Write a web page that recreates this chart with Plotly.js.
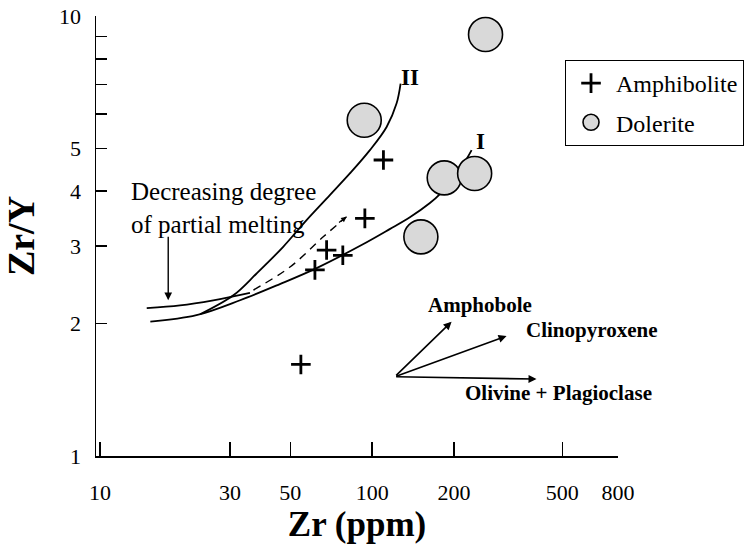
<!DOCTYPE html>
<html>
<head>
<meta charset="utf-8">
<script src="https://cdn.plot.ly/plotly-3.0.1.min.js"></script>
<style>html,body{margin:0;padding:0;background:#fff;}#chart{width:748px;height:552px;}</style>
</head>
<body>
<div id="chart"></div>
<script>
// ---- data ----
const amphZr    = [110, 94, 68, 78, 61.6, 54.7];
const amphRatio = [4.71, 3.47, 2.94, 2.86, 2.65, 1.615];

const dolZr     = [261, 93.5, 184, 238, 151];
const dolRatio  = [9.09, 5.80, 4.29, 4.39, 3.15];

const curveIZr    = [15.3, 22.6, 32.7, 45.8, 62.5, 92.5, 116, 137.6, 163, 177.4, 201, 222, 232];
const curveIRatio = [2.02, 2.09, 2.26, 2.46, 2.675, 3.03, 3.28, 3.49, 3.76, 3.94, 4.33, 4.73, 4.96];

const curveIIZr    = [23.3, 30.9, 37.6, 47.1, 57.4, 69.9, 82.8, 98.1, 113, 122.9, 127.2];
const curveIIRatio = [2.10, 2.32, 2.60, 2.99, 3.44, 3.92, 4.39, 4.96, 5.60, 6.33, 7.03];

const meltZr    = [14.84, 19.67, 26.06, 35.55];
const meltRatio = [2.17, 2.20, 2.26, 2.35];

const trendZr    = [36.6, 49.9, 66.1, 80.5];
const trendRatio = [2.384, 2.69, 3.15, 3.50];

const vectorOrigin   = [121, 1.514];
const mineralNames   = ['Amphobole', 'Clinopyroxene', 'Olivine + Plagioclase'];
const mineralTipZr   = [195.8, 311.8, 401.8];
const mineralTipRatio= [2.02, 1.874, 1.496];

const xTickVals = [10, 30, 50, 100, 200, 500, 800];
const xTickText = ['10', '30', '50', '100', '200', '500', '800'];
const yTickVals = [1, 2, 3, 4, 5, 6, 7, 8, 9, 10];
const yTickText = ['1', '2', '3', '4', '5', '', '', '', '', '10'];

// ---- chart ----
const FONT = 'Liberation Serif, Times New Roman, serif';
const L = Math.log10;
const lineStyle = {color: '#000', width: 1.8, shape: 'spline', smoothing: 1};

const traces = [
  {x: curveIZr, y: curveIRatio, mode: 'lines', line: lineStyle, showlegend: false, hoverinfo: 'skip', name: 'I'},
  {x: curveIIZr, y: curveIIRatio, mode: 'lines', line: lineStyle, showlegend: false, hoverinfo: 'skip', name: 'II'},
  {x: meltZr, y: meltRatio, mode: 'lines', line: lineStyle, showlegend: false, hoverinfo: 'skip'},
  {x: trendZr, y: trendRatio, mode: 'lines', line: {color: '#000', width: 1.4, dash: '8px,6px', shape: 'spline'}, showlegend: false, hoverinfo: 'skip'},
  {x: amphZr, y: amphRatio, mode: 'markers', name: 'Amphibolite', legendgroup: 'a',
   marker: {symbol: 'cross-thin-open', size: 14, color: '#000', line: {color: '#000', width: 2.8}}},
  {x: dolZr, y: dolRatio, mode: 'markers', name: 'Dolerite', legendgroup: 'd',
   marker: {symbol: 'circle', size: 34, color: '#d9d9d9', line: {color: '#000', width: 1.6}}}
];

const annotations = [
  {x: L(17.8), y: L(2.26), xref: 'x', yref: 'y', text: '', showarrow: true, arrowhead: 2, arrowsize: 1.1, arrowwidth: 1.4, arrowcolor: '#000', ax: 0, ay: -65},
  {x: L(trendZr[trendZr.length-1]), y: L(trendRatio[trendRatio.length-1]), xref: 'x', yref: 'y', text: '', showarrow: true, arrowhead: 2, arrowsize: 0.9, arrowwidth: 1.2, arrowcolor: '#000', ax: -9, ay: 7},
  {x: L(12.77), y: 0.5648, xref: 'x', yref: 'y', text: 'Decreasing degree<br>of partial melting', showarrow: false, xanchor: 'left', yanchor: 'middle', align: 'left', font: {family: FONT, size: 25, color: '#000'}},
  {x: 2.1386, y: 0.8614, xref: 'x', yref: 'y', text: '<b>II</b>', showarrow: false, font: {family: FONT, size: 23, color: '#000'}},
  {x: 2.3994, y: 0.716, xref: 'x', yref: 'y', text: '<b>I</b>', showarrow: false, font: {family: FONT, size: 23, color: '#000'}},
];
const labelPos = [[2.3957, 0.3432], [2.8061, 0.2864], [2.6834, 0.1425]];
mineralNames.forEach(function (nm, i) {
  annotations.push({x: L(mineralTipZr[i]), y: L(mineralTipRatio[i]), xref: 'x', yref: 'y', axref: 'x', ayref: 'y',
    ax: L(vectorOrigin[0]), ay: L(vectorOrigin[1]), text: '', showarrow: true, arrowhead: 2, arrowsize: 1, arrowwidth: 1.6, arrowcolor: '#000'});
  annotations.push({x: labelPos[i][0], y: labelPos[i][1], xref: 'x', yref: 'y', text: '<b>' + nm + '</b>', showarrow: false,
    font: {family: FONT, size: 21, color: '#000'}});
});

const layout = {
  width: 748, height: 552,
  margin: {l: 96, r: 130, t: 16, b: 96, autoexpand: false},
  paper_bgcolor: '#fff', plot_bgcolor: '#fff',
  font: {family: FONT, color: '#000'},
  showlegend: true,
  legend: {x: 0.8985, y: 0.9, xanchor: 'left', yanchor: 'top', bordercolor: '#000', borderwidth: 1,
    bgcolor: '#fff', font: {family: FONT, size: 24, color: '#000'}, traceorder: 'grouped', tracegroupgap: 5, itemwidth: 40},
  xaxis: {type: 'log', range: [0.985, 2.9035], showline: true, linecolor: '#000', linewidth: 1.5, mirror: false,
    showgrid: false, zeroline: false, ticks: 'inside', ticklen: 14, tickwidth: 1.5, tickcolor: '#000',
    tickvals: xTickVals, ticktext: xTickText, tickfont: {family: FONT, size: 22, color: '#000'}, ticklabelstandoff: 16,
    title: {text: '<b>Zr (ppm)</b>', font: {family: FONT, size: 35, color: '#000'}, standoff: 6}},
  yaxis: {type: 'log', range: [0, 1.0005], showline: true, linecolor: '#000', linewidth: 1.5, mirror: false,
    showgrid: false, zeroline: false, ticks: 'inside', ticklen: 11, tickwidth: 1.5, tickcolor: '#000',
    tickvals: yTickVals, ticktext: yTickText, tickfont: {family: FONT, size: 22, color: '#000'}, ticklabelstandoff: 9,
    title: {text: '<b>Zr/Y</b>', font: {family: FONT, size: 38, color: '#000'}, standoff: 14}},
  annotations: annotations
};

Plotly.newPlot('chart', traces, layout, {staticPlot: true, displayModeBar: false});
</script>
</body>
</html>
